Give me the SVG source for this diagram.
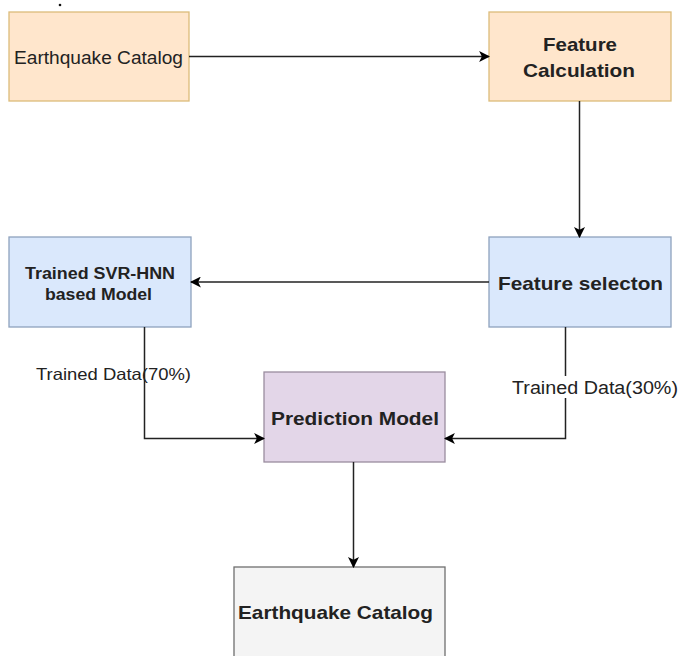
<svg xmlns="http://www.w3.org/2000/svg" width="681" height="656" viewBox="0 0 681 656">
<defs>
<marker id="arr" viewBox="0 0 10 10" refX="9" refY="5" markerWidth="11" markerHeight="11" markerUnits="userSpaceOnUse" orient="auto">
<path d="M0,0 L10,5 L0,10 L2.5,5 Z" fill="#000"/>
</marker>
<style>
.t{font-family:"Liberation Sans",Arial,sans-serif;fill:#222;text-anchor:middle}
.b{font-weight:bold}
.or{fill:#ffe6cc;stroke:#dcbc7a;stroke-width:1.3}
.bl{fill:#dae8fc;stroke:#8ea2bd;stroke-width:1.3}
.pu{fill:#e3d6e8;stroke:#9a8d9f;stroke-width:1.3}
.gr{fill:#f4f4f4;stroke:#6f6f6f;stroke-width:1.3}
.c{fill:none;stroke:#222;stroke-width:1.5;marker-end:url(#arr)}
</style>
</defs>
<rect width="681" height="656" fill="#fff"/>
<circle cx="60" cy="5" r="1.3" fill="#111"/>
<g id="n1"><rect class="or" x="9" y="12" width="180" height="89"/>
<text class="t" x="98.5" y="63.5" font-size="17.5" textLength="169" lengthAdjust="spacingAndGlyphs">Earthquake Catalog</text></g>
<g id="n2"><rect class="or" x="489" y="12" width="182" height="89"/>
<text class="t b" x="580" y="51" font-size="18.5" textLength="74" lengthAdjust="spacingAndGlyphs">Feature</text>
<text class="t b" x="579" y="77" font-size="18.5" textLength="112" lengthAdjust="spacingAndGlyphs">Calculation</text></g>
<g id="n3"><rect class="bl" x="9" y="237" width="182" height="90"/>
<text class="t b" x="100" y="278.5" font-size="16" textLength="150" lengthAdjust="spacingAndGlyphs" fill="#333">Trained SVR-HNN</text>
<text class="t b" x="98.5" y="299.5" font-size="16" textLength="107" lengthAdjust="spacingAndGlyphs" fill="#333">based Model</text></g>
<g id="n4"><rect class="bl" x="489" y="237" width="182" height="90"/>
<text class="t b" x="580.5" y="290" font-size="19" textLength="165" lengthAdjust="spacingAndGlyphs">Feature selecton</text></g>
<g id="n5"><rect class="pu" x="264" y="372" width="181" height="90"/>
<text class="t b" x="355" y="425" font-size="18.5" textLength="168" lengthAdjust="spacingAndGlyphs">Prediction Model</text></g>
<g id="n6"><rect class="gr" x="234" y="567" width="211" height="100"/>
<text class="t b" x="335.5" y="618.5" font-size="18.5" textLength="195" lengthAdjust="spacingAndGlyphs">Earthquake Catalog</text></g>
<g id="connectors">
<path class="c" d="M189,56.5 H489"/>
<path class="c" d="M579.5,101 V237"/>
<path class="c" d="M489,282 H191"/>
<path class="c" d="M144.5,327 V438.5 H264"/>
<path class="c" d="M565.5,327 V438.5 H445"/>
<path class="c" d="M353.5,462 V567"/>
<rect x="511" y="376" width="168" height="22" fill="#fff"/>
<text class="t" x="113.5" y="379.5" font-size="16.5" textLength="155" lengthAdjust="spacingAndGlyphs" fill="#333">Trained Data(70%)</text>
<text class="t" x="595" y="393.5" font-size="17.5" textLength="166" lengthAdjust="spacingAndGlyphs" fill="#333">Trained Data(30%)</text>
</g>
</svg>
